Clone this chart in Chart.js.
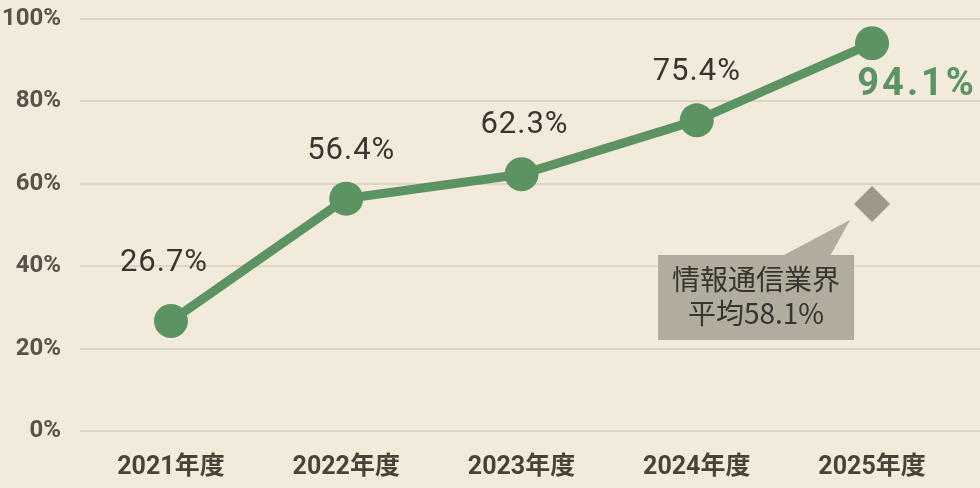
<!DOCTYPE html>
<html>
<head>
<meta charset="utf-8">
<script src="https://cdn.jsdelivr.net/npm/chart.js@4.4.1/dist/chart.umd.min.js"></script>
<style>
  html, body { margin: 0; padding: 0; background: #f2ebdb; overflow: hidden; }
  #wrap { width: 980px; height: 488px; }
</style>
</head>
<body>
<div id="wrap"><canvas id="rate"></canvas></div>
<script>
const years = ["2021年度", "2022年度", "2023年度", "2024年度", "2025年度"];
const rates = [26.7, 56.4, 62.3, 75.4, 94.1];
const yTicks = [0, 20, 40, 60, 80, 100];
const industryAvg = [55.1];           // where the diamond sits on the picture
const industryText = ["情報通信業界", "平均58.1%"];

// label placement relative to each point (px)
const labelOffsets = [[-7, -58], [5, -47], [3, -49], [0, -48], [45, 42]];

const FONT = "Roboto, 'Noto Sans CJK JP', sans-serif";
const green = "#5b9363";

const ctx = document.querySelector("#rate").getContext("2d");

// background, category labels, value labels, callout
const extras = {
  id: "extras",
  beforeDraw(chart) {
    const c = chart.ctx;
    c.save();
    c.fillStyle = "#f2ebdb";
    c.fillRect(0, 0, chart.width, chart.height);
    c.restore();
  },
  afterDraw(chart) {
    const c = chart.ctx;
    const x = chart.scales.x;
    c.save();
    c.textAlign = "center";
    c.textBaseline = "middle";
    c.fillStyle = "#4a4238";
    c.font = "bold 25px " + FONT;
    years.forEach((y, i) => {
      c.fillText(y, x.getPixelForValue(i), chart.chartArea.bottom + 37);
    });
    c.restore();
  },
  afterDatasetsDraw(chart) {
    const c = chart.ctx;
    const pts = chart.getDatasetMeta(0).data;
    c.save();
    c.textAlign = "center";
    c.textBaseline = "middle";
    pts.forEach((p, i) => {
      const last = i === pts.length - 1;
      c.font = last ? "bold 38px " + FONT : "31px " + FONT;
      c.letterSpacing = last ? "3px" : "1px";
      c.fillStyle = last ? green : "#3a3530";
      c.fillText(rates[i].toFixed(1) + "%", p.x + labelOffsets[i][0], p.y + labelOffsets[i][1]);
    });
    c.letterSpacing = "0px";

    // callout box pointing at the diamond
    const d = chart.getDatasetMeta(1).data[0];
    const right = d.x - 18, top = d.y + 51, w = 196, h = 85;
    const left = right - w;
    c.fillStyle = "#b2ac9e";
    c.beginPath();
    c.moveTo(left + 124, top + 1);
    c.lineTo(d.x - 22, d.y + 16);
    c.lineTo(left + 172, top + 1);
    c.closePath();
    c.fill();
    c.fillRect(left, top, w, h);
    c.fillStyle = "#38332e";
    c.font = "28px 'Noto Sans CJK JP', sans-serif";
    c.fillText(industryText[0], left + w / 2, top + 24);
    c.fillText(industryText[1], left + w / 2, top + 58);
    c.restore();
  },
};

const config = {
  type: "line",
  data: {
    datasets: [
      {
        data: rates.map((v, i) => ({ x: i, y: v })),
        borderColor: green,
        backgroundColor: green,
        borderWidth: 9,
        tension: 0,
        pointRadius: 17,
        pointHoverRadius: 17,
        pointBorderWidth: 0,
        clip: false,
      },
      {
        data: industryAvg.map((v) => ({ x: years.length - 1, y: v })),
        showLine: false,
        pointStyle: "rectRot",
        pointRadius: 18,
        pointBorderWidth: 0,
        backgroundColor: "#9e988a",
        borderColor: "#9e988a",
        clip: false,
      },
    ],
  },
  options: {
    responsive: true,
    maintainAspectRatio: false,
    animation: false,
    events: [],
    layout: { autoPadding: false, padding: { top: 19, right: 0, left: 0, bottom: 0 } },
    plugins: {
      legend: { display: false },
      tooltip: { enabled: false },
    },
    scales: {
      x: {
        type: "linear",
        min: -0.519,
        max: 4.616,
        grid: { display: false, drawTicks: false },
        border: { display: false },
        ticks: { display: false },
        afterFit(axis) {
          axis.height = 57;
          axis.paddingLeft = 0;
          axis.paddingRight = 0;
        },
      },
      y: {
        min: 0,
        max: 100,
        afterBuildTicks(axis) {
          axis.ticks = yTicks.map((v) => ({ value: v }));
        },
        afterFit(axis) {
          axis.width = 80;
          axis.paddingTop = 0;
          axis.paddingBottom = 0;
        },
        grid: { color: "#ddd5c3", lineWidth: 2, drawTicks: false },
        border: { display: false },
        ticks: {
          padding: 19,
          color: "#57524a",
          font: { family: FONT, size: 24, weight: "bold" },
          callback: (v) => v + "%",
        },
      },
    },
  },
};

new Chart(ctx, { ...config, plugins: [extras] });
</script>
</body>
</html>
